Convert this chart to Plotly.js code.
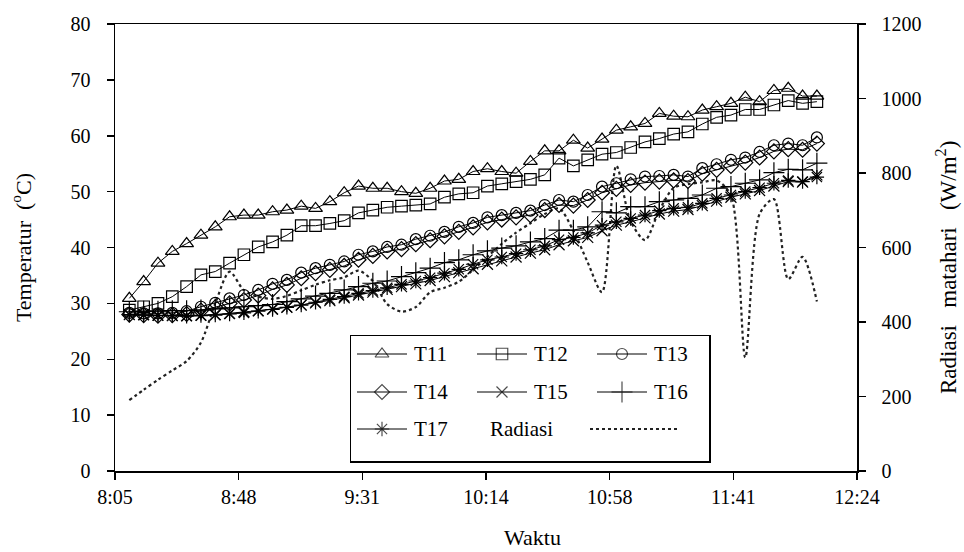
<!DOCTYPE html>
<html><head><meta charset="utf-8">
<script src="https://cdn.plot.ly/plotly-3.0.1.min.js"></script>
<style>html,body{margin:0;padding:0;background:#fff}#chart{width:964px;height:552px}</style>
</head><body><div id="chart"></div>
<script>
// ---------- DATA ----------
const times = ["8:10","8:15","8:20","8:25","8:30","8:35","8:40","8:45","8:50","8:55",
  "9:00","9:05","9:10","9:15","9:20","9:25","9:30","9:35","9:40","9:45",
  "9:50","9:55","10:00","10:05","10:10","10:15","10:20","10:25","10:30","10:35",
  "10:40","10:45","10:50","10:55","11:00","11:05","11:10","11:15","11:20","11:25",
  "11:30","11:35","11:40","11:45","11:50","11:55","12:00","12:05","12:10"];
const T11 = [30.9,33.9,37.2,39.3,40.7,42.2,43.7,45.5,45.8,45.8,46.4,46.7,47.4,47.0,48.2,49.8,51.0,50.6,50.6,50.0,49.7,50.6,51.9,52.2,53.6,54.1,53.6,53.3,55.4,57.3,57.3,59.2,57.8,59.4,61.0,61.6,62.2,64.0,63.5,63.4,64.6,65.2,65.8,66.9,66.1,68.1,68.5,67.1,67.1];
const T12 = [28.8,29.4,30.0,31.2,33.0,35.1,35.7,37.2,38.7,40.1,41.0,42.2,43.9,43.9,44.3,44.8,46.2,46.7,47.2,47.4,47.6,47.8,49.0,49.6,49.8,51.0,51.4,51.8,52.2,53.0,56.0,54.6,55.7,56.7,57.0,57.9,58.9,59.5,60.3,60.7,62.1,63.3,63.7,64.7,64.7,65.5,66.3,65.8,66.1];
const T13 = [28.3,28.2,28.2,28.3,28.6,29.4,30.1,30.9,31.5,32.4,33.5,34.2,35.5,36.3,36.9,37.5,38.7,39.3,40.1,40.5,41.5,42.1,42.8,43.7,44.4,45.4,45.8,46.2,46.6,47.6,48.5,48.2,49.4,50.9,51.5,52.2,52.7,52.8,53.0,52.7,54.2,54.9,55.7,56.1,57.1,58.3,58.6,58.3,59.7];
const T14 = [28.0,27.9,27.8,27.9,28.1,28.7,29.3,30.0,30.6,31.4,32.5,33.3,34.5,35.4,36.0,36.7,37.8,38.5,39.3,39.7,40.6,41.3,42.0,42.8,43.6,44.5,45.0,45.4,45.8,46.7,47.6,47.5,48.5,49.8,50.5,51.2,51.6,51.8,52.0,51.9,53.2,53.9,54.6,55.2,56.1,57.2,57.6,57.5,58.6];
const T15 = [28.0,28.0,27.9,27.8,27.8,27.9,28.0,28.2,28.5,28.7,29.0,29.3,29.7,30.1,30.5,31.0,31.5,32.0,32.5,33.0,33.5,34.1,34.8,35.5,36.2,37.0,37.6,38.3,39.0,39.6,40.5,41.2,41.8,43.0,44.0,44.6,45.3,46.0,46.5,46.8,47.5,48.3,49.0,49.6,50.2,51.0,51.8,51.7,53.0];
const T16 = [28.5,28.6,28.6,28.7,28.7,28.8,29.0,29.2,29.4,29.6,29.8,30.3,30.8,31.3,31.8,32.4,33.0,33.6,34.0,34.8,35.5,36.3,37.3,37.8,38.7,39.4,39.9,40.3,41.0,41.6,43.1,43.1,43.7,46.4,46.2,47.3,47.3,48.2,48.5,48.8,49.4,50.6,50.9,51.5,52.1,53.4,54.0,53.9,55.1];
const T17 = [28.0,27.9,27.8,27.8,27.7,27.8,27.9,28.1,28.3,28.6,28.9,29.3,29.7,30.2,30.7,31.2,31.8,32.3,32.8,33.4,34.0,34.6,35.4,36.1,37.0,37.8,38.3,38.9,39.6,40.3,41.4,41.8,42.6,44.0,44.6,45.2,45.8,46.6,47.0,47.2,47.9,48.8,49.4,50.0,50.7,51.5,52.0,51.8,52.6];
const radiasi = [190,218,245,270,295,345,450,535,485,468,462,470,485,500,512,520,538,510,448,428,440,480,492,508,540,575,610,640,665,690,705,645,560,480,820,670,620,700,760,770,775,780,740,305,690,730,515,575,455];
const xTickLabels = ["8:05","8:48","9:31","10:14","10:58","11:41","12:24"];
const seriesNames = ["T11","T12","T13","T14","T15","T16","T17"];
const radName = "Radiasi";

// ---------- STYLE ----------
const FONT = "'Liberation Serif','Times New Roman',serif";
const symbols = ["triangle-up-open","square-open","circle-open","diamond-open","x-thin-open","cross-thin-open","asterisk-open"];
const sizes = [12,11.5,11,11.5,11,15,12];
const series = [T11,T12,T13,T14,T15,T16,T17];

function toMin(s){const p=s.split(':');return (+p[0])*60+(+p[1]);}
const xs = times.map(toMin);
const xStart = toMin(xTickLabels[0]), xEnd = toMin(xTickLabels[xTickLabels.length-1]);
const tickvals = xTickLabels.map((_,k)=> xStart + (xEnd-xStart)*k/(xTickLabels.length-1));

const traces = [];
// radiation on primary (right) axis, drawn below temperatures
traces.push({x:xs, y:radiasi, xaxis:'x', yaxis:'y', mode:'lines', name:radName,
  line:{color:'#222', width:2.2, dash:'3px,3px', shape:'spline', smoothing:0.8}, hoverinfo:'skip'});
series.forEach((s,k)=>{
  traces.push({x:xs, y:s, xaxis:'x', yaxis:'y2', mode:'lines+markers', name:seriesNames[k],
    line:{color:'#000', width:1},
    marker:{symbol:symbols[k], size:sizes[k], color:'#000', line:{color:'#000', width:1.2}}});
});

// ---------- custom legend (own small axis pair) ----------
const L=115,R=857,T=24,B=471;
const box = {x0:351,x1:709,y0:336,y1:461};
const LW = box.x1-box.x0, LH = box.y1-box.y0;
const colX = [6,126,246], rowY = [18,56,93], sampleLen = 50, textGap = 5;
const annotations = [];
seriesNames.forEach((nm,k)=>{
  const c=k%3, r=Math.floor(k/3);
  const a=colX[c];
  traces.push({x:[a,a+sampleLen/2,a+sampleLen], y:[rowY[r],rowY[r],rowY[r]], xaxis:'x3', yaxis:'y3',
    mode:'lines+markers', showlegend:false, hoverinfo:'skip',
    line:{color:'#000',width:1},
    marker:{symbol:symbols[k], size:[0,sizes[k],0], color:'#000', line:{color:'#000',width:1.2}}});
  annotations.push({xref:'x3', yref:'y3', x:a+sampleLen+textGap, y:rowY[r], text:nm, showarrow:false,
    xanchor:'left', yanchor:'middle', font:{family:FONT,size:21,color:'#000'}});
});
annotations.push({xref:'x3', yref:'y3', x:137, y:rowY[2], text:radName, showarrow:false,
  xanchor:'left', yanchor:'middle', font:{family:FONT,size:21,color:'#000'}});
traces.push({x:[239,329], y:[rowY[2],rowY[2]], xaxis:'x3', yaxis:'y3', mode:'lines', showlegend:false,
  hoverinfo:'skip', line:{color:'#222', width:2.2, dash:'3px,3px'}});

// axis titles placed as annotations where the reference offsets them
annotations.push({xref:'paper', yref:'paper', x:(532-L)/(R-L), y:(B-537)/(B-T), text:'Waktu', showarrow:false,
  xanchor:'center', yanchor:'middle', font:{family:FONT,size:22,color:'#000'}});
annotations.push({xref:'paper', yref:'paper', x:(946-L)/(R-L), y:(B-268)/(B-T), text:'Radiasi   matahari   (W/m<sup>2</sup>)',
  textangle:-90, showarrow:false, xanchor:'center', yanchor:'middle', font:{family:FONT,size:23,color:'#000'}});

const axBase = {showgrid:false, zeroline:false, showline:true, linecolor:'#000', linewidth:1.5,
  ticks:'outside', ticklen:7, tickwidth:1.5, tickcolor:'#000', tickfont:{family:FONT,size:20,color:'#000'}};

const layout = {
  width:964, height:552, margin:{l:L, r:964-R, t:T, b:552-B, pad:0},
  paper_bgcolor:'#fff', plot_bgcolor:'rgba(0,0,0,0)', showlegend:false,
  font:{family:FONT, color:'#000'},
  xaxis: Object.assign({}, axBase, {range:[xStart,xEnd], tickvals:tickvals, ticktext:xTickLabels, mirror:true, ticklabelstandoff:0}),
  yaxis: Object.assign({}, axBase, {side:'right', range:[0,1200], dtick:200, tick0:0, ticklabelstandoff:12}),
  yaxis2: Object.assign({}, axBase, {overlaying:'y', side:'left', range:[0,80], dtick:10, tick0:0, ticklabelstandoff:12,
    title:{text:'Temperatur  (<sup>o</sup>C)', font:{family:FONT,size:22,color:'#000'}, standoff:33}}),
  xaxis3: {domain:[(box.x0-L)/(R-L),(box.x1-L)/(R-L)], anchor:'y3', range:[0,LW], showgrid:false, zeroline:false,
    showticklabels:false, ticks:'', showline:true, mirror:true, linecolor:'#000', linewidth:1.5, fixedrange:true},
  yaxis3: {domain:[(B-box.y1)/(B-T),(B-box.y0)/(B-T)], anchor:'x3', range:[LH,0], showgrid:false, zeroline:false,
    showticklabels:false, ticks:'', showline:true, mirror:true, linecolor:'#000', linewidth:1.5, fixedrange:true},
  annotations: annotations
};
Plotly.newPlot('chart', traces, layout, {displayModeBar:false, staticPlot:true});
</script></body></html>
